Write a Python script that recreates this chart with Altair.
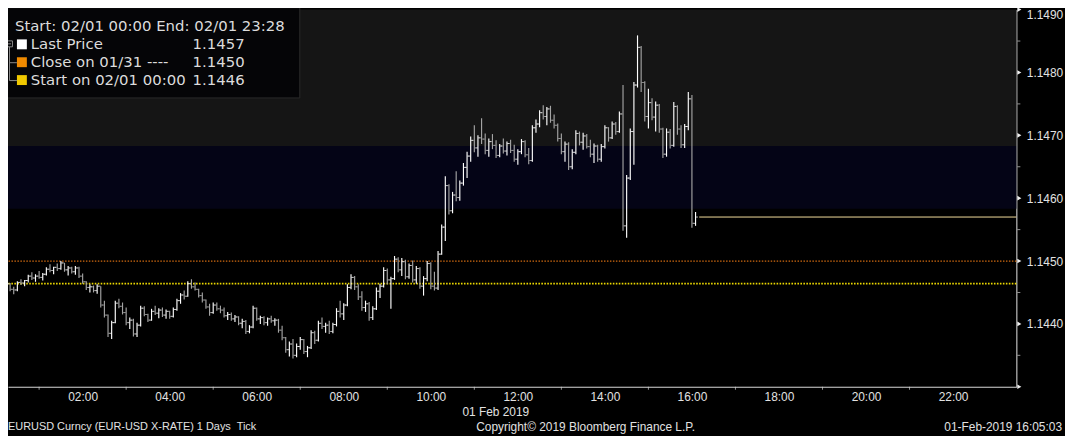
import altair as alt
import pandas as pd

# ---------------- data (EURUSD, 5-minute bars from 00:00) ----------------
HIGH = [1.1447, 1.14471, 1.14468, 1.14466, 1.14465, 1.14459, 1.14468, 1.14471, 1.1447, 1.14478,
        1.14482, 1.14479, 1.14484, 1.14481, 1.1449, 1.14495, 1.14491, 1.14496, 1.145, 1.14497,
        1.14492, 1.14491, 1.14492, 1.14491, 1.1448, 1.14468, 1.14463, 1.14461, 1.14463, 1.1446,
        1.14437, 1.14415, 1.14405, 1.14437, 1.1444, 1.14434, 1.14426, 1.1441, 1.14408, 1.14402,
        1.14429, 1.14428, 1.14416, 1.14424, 1.14429, 1.14425, 1.14426, 1.14423, 1.14421, 1.14426,
        1.1444, 1.14449, 1.14453, 1.14468, 1.14471, 1.14466, 1.14456, 1.1445, 1.14439, 1.14432,
        1.14434, 1.14434, 1.14429, 1.14426, 1.14419, 1.14418, 1.14414, 1.14412, 1.14408, 1.14406,
        1.14398, 1.14429, 1.14426, 1.14413, 1.14412, 1.1441, 1.14413, 1.14409, 1.14408, 1.14397,
        1.14379, 1.14372, 1.14376, 1.14369, 1.14379, 1.14376, 1.14365, 1.1439, 1.14389, 1.14405,
        1.1441, 1.14402, 1.14405, 1.14402, 1.14425, 1.14437, 1.14433, 1.14463, 1.14479, 1.14476,
        1.14463, 1.14452, 1.14437, 1.14435, 1.14428, 1.14458, 1.14464, 1.1449, 1.14488, 1.14475,
        1.14508, 1.14506, 1.14505, 1.14502, 1.14496, 1.14501, 1.14492, 1.1449, 1.14476, 1.145,
        1.14498, 1.14483, 1.14516, 1.14558, 1.14635, 1.14622, 1.1461, 1.14643, 1.14628, 1.14656,
        1.14674, 1.14698, 1.14716, 1.147, 1.14727, 1.14703, 1.14695, 1.14702, 1.14692, 1.14686,
        1.14695, 1.1469, 1.14693, 1.14685, 1.14678, 1.14694, 1.14692, 1.1468, 1.14716, 1.14725,
        1.1474, 1.14748, 1.14745, 1.14747, 1.14733, 1.14719, 1.14703, 1.1469, 1.14689, 1.14678,
        1.14708, 1.14706, 1.14704, 1.14702, 1.14693, 1.14687, 1.14685, 1.14686, 1.14716, 1.14713,
        1.14722, 1.14721, 1.14738, 1.1478, 1.14637, 1.14711, 1.14785, 1.14859, 1.14842, 1.14786,
        1.14774, 1.14759, 1.14754, 1.1475, 1.14712, 1.14711, 1.1471, 1.14753, 1.14748, 1.14716,
        1.14718, 1.14769, 1.14764, 1.14578]
LOW = [1.1446, 1.14462, 1.14459, 1.14458, 1.14452, 1.14447, 1.14452, 1.14462, 1.1446, 1.14466,
       1.1447, 1.14467, 1.14472, 1.14469, 1.14477, 1.14482, 1.14479, 1.14484, 1.14486, 1.14483,
       1.14477, 1.1448, 1.14478, 1.14473, 1.14464, 1.14454, 1.1445, 1.1445, 1.14448, 1.14426,
       1.1441, 1.14379, 1.14376, 1.14401, 1.14425, 1.14415, 1.14398, 1.14392, 1.1438, 1.14379,
       1.14396, 1.14412, 1.14403, 1.14405, 1.14414, 1.14409, 1.14411, 1.14408, 1.14408, 1.1441,
       1.14421, 1.14432, 1.14439, 1.14443, 1.14456, 1.14453, 1.14442, 1.14434, 1.14424, 1.14413,
       1.14416, 1.14421, 1.14417, 1.1441, 1.14406, 1.14405, 1.14403, 1.14398, 1.14393, 1.14384,
       1.14385, 1.14393, 1.14405, 1.144, 1.14398, 1.14397, 1.14402, 1.14397, 1.14386, 1.14374,
       1.14354, 1.14348, 1.14345, 1.14347, 1.14359, 1.14352, 1.14347, 1.1436, 1.14368, 1.14372,
       1.14392, 1.14386, 1.14384, 1.14385, 1.14396, 1.1441, 1.14406, 1.14428, 1.14455, 1.14454,
       1.14438, 1.14421, 1.14419, 1.14405, 1.14406, 1.14422, 1.14441, 1.14458, 1.14463, 1.14424,
       1.1447, 1.14482, 1.14476, 1.14471, 1.14472, 1.14466, 1.14464, 1.14456, 1.14445, 1.14468,
       1.14455, 1.14453, 1.14454, 1.1451, 1.14532, 1.14574, 1.14576, 1.14595, 1.14596, 1.1462,
       1.14632, 1.14658, 1.14673, 1.14666, 1.14686, 1.1467, 1.14666, 1.14678, 1.14664, 1.14665,
       1.14671, 1.14668, 1.14672, 1.14658, 1.14653, 1.1467, 1.14665, 1.14654, 1.14658, 1.14704,
       1.14713, 1.14725, 1.14716, 1.1472, 1.14711, 1.1469, 1.1467, 1.14658, 1.14645, 1.14646,
       1.1467, 1.14684, 1.14677, 1.14679, 1.14665, 1.14656, 1.14658, 1.14658, 1.14679, 1.1469,
       1.14694, 1.14701, 1.14704, 1.14548, 1.14537, 1.14629, 1.14653, 1.14776, 1.14769, 1.14722,
       1.14711, 1.14724, 1.14706, 1.14704, 1.14664, 1.14666, 1.14679, 1.14682, 1.14701, 1.1468,
       1.1468, 1.14708, 1.14553, 1.14556]
CLOSE = [1.14466, 1.14464, 1.14462, 1.14464, 1.14455, 1.14454, 1.14466, 1.14465, 1.14469, 1.14476,
         1.14473, 1.14476, 1.14474, 1.14479, 1.14487, 1.14485, 1.1449, 1.14488, 1.14497, 1.14486,
         1.14489, 1.14483, 1.14489, 1.14476, 1.14467, 1.14458, 1.14459, 1.14453, 1.1446, 1.1443,
         1.14414, 1.14385, 1.14402, 1.14433, 1.14428, 1.14418, 1.14402, 1.14406, 1.14384, 1.14398,
         1.14425, 1.14415, 1.14406, 1.1442, 1.14417, 1.14422, 1.14414, 1.1442, 1.14412, 1.14423,
         1.14437, 1.14446, 1.14444, 1.14464, 1.14459, 1.14455, 1.14445, 1.14438, 1.14427, 1.14418,
         1.1443, 1.14424, 1.14422, 1.14413, 1.14415, 1.14408, 1.14411, 1.14401, 1.14404, 1.14388,
         1.14395, 1.14425, 1.14408, 1.1441, 1.14402, 1.14408, 1.14405, 1.14406, 1.1439, 1.14378,
         1.14359, 1.14368, 1.1435, 1.14364, 1.14375, 1.14356, 1.14362, 1.14386, 1.14374, 1.14401,
         1.14396, 1.14398, 1.14388, 1.14399, 1.1442, 1.14416, 1.1443, 1.14458, 1.14474, 1.14459,
         1.14443, 1.14426, 1.14432, 1.1441, 1.14424, 1.14452, 1.1446, 1.14485, 1.1447, 1.14472,
         1.14503, 1.14486, 1.14499, 1.14475, 1.14493, 1.1447, 1.14488, 1.1446, 1.14472, 1.14496,
         1.1446, 1.14457, 1.14511, 1.14554, 1.1462, 1.1458, 1.14605, 1.14601, 1.14624, 1.14649,
         1.14667, 1.14692, 1.1468, 1.14696, 1.14694, 1.14676, 1.1469, 1.14684, 1.14668, 1.14683,
         1.14675, 1.14687, 1.14676, 1.14662, 1.14674, 1.1469, 1.14669, 1.1466, 1.14712, 1.14718,
         1.14736, 1.1473, 1.14742, 1.14724, 1.14716, 1.14695, 1.14674, 1.14686, 1.1465, 1.14673,
         1.14703, 1.14689, 1.14699, 1.14682, 1.1467, 1.14683, 1.14662, 1.14682, 1.14712, 1.14696,
         1.14718, 1.14706, 1.14734, 1.14556, 1.14632, 1.14706, 1.1478, 1.1484, 1.14784, 1.1473,
         1.14752, 1.14729, 1.14748, 1.1471, 1.1467, 1.14705, 1.14684, 1.14746, 1.1471, 1.14685,
         1.14714, 1.14758, 1.1456, 1.1457]
FIRST_OPEN = 1.14464
BAR_MINUTES = 5

PREV_CLOSE = 1.1450      # Close on 01/31
START_PRICE = 1.14464    # Start on 02/01 00:00
LAST_PRICE = 1.1457      # Last Price
NAVY_BAND = [1.14583, 1.14683]
GRAY_BAND = [1.14683, 1.1490]

Y_DOMAIN = [1.1430, 1.1490]
X_DOMAIN = [0.285, 23.455]        # hours of 01 Feb 2019
X_LABEL_HOURS = [2, 4, 6, 8, 10, 12, 14, 16, 18, 20, 22]
X_TICK_HOURS = [1, 3, 5, 7, 9, 11, 13, 15, 17, 19, 21]
Y_LABELS = [1.1440, 1.1450, 1.1460, 1.1470, 1.1480, 1.1490]
Y_ARROWS = [1.1430, 1.1440, 1.1450, 1.1460, 1.1470, 1.1480, 1.1490]
Y_MINOR = [1.1435, 1.1445, 1.1455, 1.1465, 1.1475, 1.1485]

LEGEND_TITLE = "Start: 02/01 00:00 End: 02/01 23:28"
LEGEND_NAMES = ["Last Price", "Close on 01/31 ----", "Start on 02/01 00:00"]
LEGEND_VALUES = ["1.1457", "1.1450", "1.1446"]
LEGEND_COLORS = ["#ffffff", "#f08a00", "#f0c800"]
DATE_LABEL = "01 Feb 2019"
FOOT_LEFT = "EURUSD Curncy (EUR-USD X-RATE) 1 Days\u00a0 Tick"
FOOT_MID = "Copyright\u00a9 2019 Bloomberg Finance L.P."
FOOT_RIGHT = "01-Feb-2019 16:05:03"

# ---------------- layout ----------------
W, H = 1016, 380
AX_FONT = "Liberation Sans"
LG_FONT = "DejaVu Sans"
TXT = "#e2e2e2"

n = len(CLOSE)
bars = pd.DataFrame({
    "t": [i * BAR_MINUTES / 60 for i in range(n)],
    "o": [FIRST_OPEN] + CLOSE[:-1],
    "h": HIGH,
    "l": LOW,
    "c": CLOSE,
})

xs = alt.Scale(domain=X_DOMAIN, nice=False, zero=False)
ys = alt.Scale(domain=Y_DOMAIN, nice=False, zero=False)

x_axis = alt.Axis(
    values=X_LABEL_HOURS,
    labelExpr="(datum.value < 10 ? '0' : '') + datum.value + ':00'",
    ticks=False, grid=False, domainColor="#dcdcdc", domainWidth=1,
    labelColor=TXT, labelFont=AX_FONT, labelFontSize=12, labelPadding=5,
    labelFlush=False, labelOverlap=False,
    title=DATE_LABEL, titleX=491, titleY=25, titleAlign="center",
    titleBaseline="middle", titleFont=AX_FONT, titleFontSize=12,
    titleFontWeight="normal", titleColor=TXT,
)
y_axis = alt.Axis(
    orient="right", values=Y_LABELS, format=".4f", ticks=False, grid=False,
    domainColor="#e6e6e6", domainWidth=1, labelColor=TXT, labelFont=AX_FONT,
    labelFontSize=12, labelPadding=10, labelFlush=True, labelOverlap=False,
    title=None,
)


def X(f):
    return alt.X(f, type="quantitative", scale=xs, axis=x_axis)


def Y(f):
    return alt.Y(f, type="quantitative", scale=ys, axis=y_axis)


one = pd.DataFrame({"k": [0]})

gray_band = alt.Chart(pd.DataFrame({"a": [GRAY_BAND[0]], "b": [GRAY_BAND[1]]})).mark_rect(
    color="#151515").encode(x=alt.value(0), x2=alt.value(W), y=Y("a"), y2="b")
navy_band = alt.Chart(pd.DataFrame({"a": [NAVY_BAND[0]], "b": [NAVY_BAND[1]]})).mark_rect(
    color="#040416").encode(x=alt.value(0), x2=alt.value(W), y=Y("a"), y2="b")

prev_line = alt.Chart(pd.DataFrame({"p": [PREV_CLOSE]})).mark_rule(
    color="#d06a10", strokeWidth=1.2, strokeDash=[1.5, 1.5]).encode(y=Y("p"))
start_line = alt.Chart(pd.DataFrame({"p": [START_PRICE]})).mark_rule(
    color="#ecd800", strokeWidth=1.6, strokeDash=[1.6, 1.4]).encode(y=Y("p"))

last_line = alt.Chart(pd.DataFrame({
    "t0": [n * BAR_MINUTES / 60], "t1": [X_DOMAIN[1]], "p": [LAST_PRICE]})).mark_rule(
    color="#f2dc9c", strokeWidth=1).encode(x=X("t0"), x2="t1", y=Y("p"))

updown = alt.condition("datum.c >= datum.o", alt.value("#ffffff"), alt.value("#a4a4a4"))
hl = alt.Chart(bars).mark_rule(strokeWidth=1.15).encode(
    x=X("t"), y=Y("l"), y2="h", color=updown)
open_tick = alt.Chart(bars).mark_tick(orient="horizontal", size=2.2, thickness=1, xOffset=-1.3).encode(
    x=X("t"), y=Y("o"), color=updown)
close_tick = alt.Chart(bars).mark_tick(orient="horizontal", size=2.2, thickness=1, xOffset=1.3).encode(
    x=X("t"), y=Y("c"), color=updown)

x_ticks = alt.Chart(pd.DataFrame({"t": X_TICK_HOURS})).mark_tick(
    orient="vertical", size=3, thickness=1, color="#d0d0d0").encode(
    x=X("t"), y=alt.value(H + 1.5))
y_minor = alt.Chart(pd.DataFrame({"p": Y_MINOR})).mark_tick(
    orient="horizontal", size=3, thickness=1, color="#d0d0d0").encode(
    x=alt.value(W + 2.5), y=Y("p"))
y_arrows = alt.Chart(pd.DataFrame({"p": Y_ARROWS})).mark_point(
    shape="triangle-right", filled=True, size=22, opacity=1, color="#f0f0f0").encode(
    x=alt.value(W + 3), y=Y("p"))

# legend box
legend_box = alt.Chart(one).mark_rect(fill="#050507", stroke="#2a2a2a", strokeWidth=1).encode(
    x=alt.value(-5), x2=alt.value(294), y=alt.value(-2), y2=alt.value(89))
legend_layers = [legend_box]
legend_layers.append(alt.Chart(pd.DataFrame({"s": [LEGEND_TITLE]})).mark_text(
    align="left", baseline="middle", font=LG_FONT, fontSize=15, color="#dcdcdc").encode(
    text="s:N", x=alt.value(7), y=alt.value(17)))
tree = "#8a8a8a"
legend_layers.append(alt.Chart(one).mark_rect(fill="#050507", stroke=tree, strokeWidth=1).encode(
    x=alt.value(-1.5), x2=alt.value(4.5), y=alt.value(31.5), y2=alt.value(37.5)))
legend_layers.append(alt.Chart(one).mark_rule(color=tree, strokeWidth=1).encode(
    x=alt.value(0), x2=alt.value(3), y=alt.value(34.5)))
legend_layers.append(alt.Chart(one).mark_rule(color=tree, strokeWidth=1).encode(
    x=alt.value(1.5), y=alt.value(37.5), y2=alt.value(71.5)))
for k, (name, val, col) in enumerate(zip(LEGEND_NAMES, LEGEND_VALUES, LEGEND_COLORS)):
    yy = 35 + 18 * k
    if k > 0:
        legend_layers.append(alt.Chart(one).mark_rule(color=tree, strokeWidth=1).encode(
            x=alt.value(1.5), x2=alt.value(9), y=alt.value(yy + 0.5)))
    legend_layers.append(alt.Chart(one).mark_square(size=100, filled=True, opacity=1, color=col).encode(
        x=alt.value(14), y=alt.value(yy)))
    legend_layers.append(alt.Chart(pd.DataFrame({"s": [name]})).mark_text(
        align="left", baseline="middle", font=LG_FONT, fontSize=15, color="#dcdcdc").encode(
        text="s:N", x=alt.value(23), y=alt.value(yy)))
    legend_layers.append(alt.Chart(pd.DataFrame({"s": [val]})).mark_text(
        align="left", baseline="middle", font=LG_FONT, fontSize=15, color="#dcdcdc").encode(
        text="s:N", x=alt.value(186), y=alt.value(yy)))

FOOT_Y = 421
foot = [
    alt.Chart(pd.DataFrame({"s": [FOOT_LEFT]})).mark_text(
        align="left", baseline="middle", font=AX_FONT, fontSize=11, color=TXT).encode(
        text="s:N", x=alt.value(0), y=alt.value(FOOT_Y)),
    alt.Chart(pd.DataFrame({"s": [FOOT_MID]})).mark_text(
        align="center", baseline="middle", font=AX_FONT, fontSize=12, color=TXT).encode(
        text="s:N", x=alt.value(582), y=alt.value(FOOT_Y)),
    alt.Chart(pd.DataFrame({"s": [FOOT_RIGHT]})).mark_text(
        align="right", baseline="middle", font=AX_FONT, fontSize=12, color=TXT).encode(
        text="s:N", x=alt.value(1062), y=alt.value(FOOT_Y)),
]

chart = alt.layer(
    gray_band, navy_band, prev_line, start_line, hl, open_tick, close_tick, last_line,
    x_ticks, y_minor, y_arrows, *legend_layers, *foot,
).properties(
    width=W, height=H,
    padding={"left": 0, "top": 0, "right": 49, "bottom": 48},
    autosize=alt.AutoSizeParams(type="none"),
).configure(background="#000000").configure_view(strokeWidth=0)

chart.save("out.html", embed_options={"renderer": "svg", "actions": False})
